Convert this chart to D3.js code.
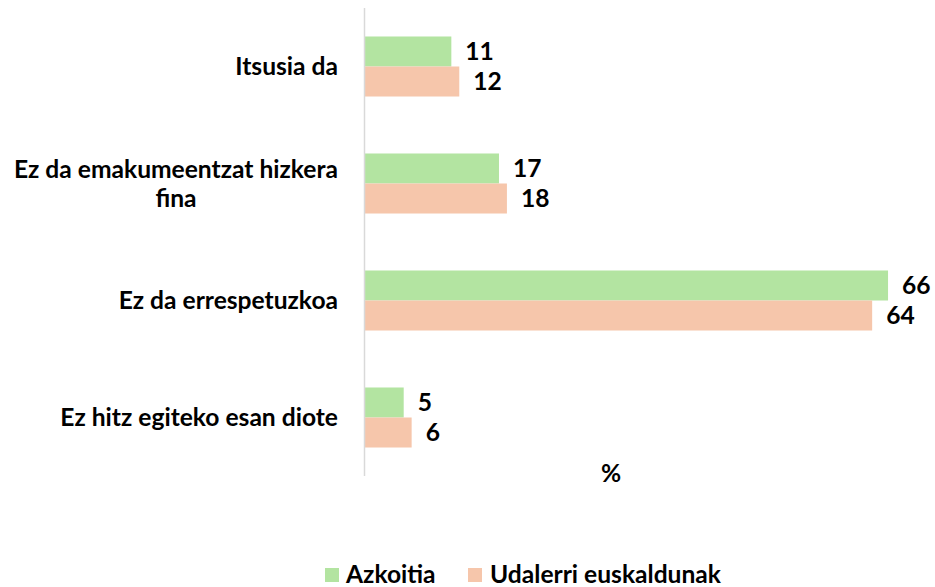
<!DOCTYPE html>
<html>
<head>
<meta charset="utf-8">
<script src="https://cdn.jsdelivr.net/npm/d3@7"></script>
<style>
  body { margin: 0; background: #fff; }
  text { font-family: Lato, "Open Sans", sans-serif; font-weight: bold; fill: #000; }
</style>
</head>
<body>
<div id="chart"></div>
<script>
// Data
const categories = [
  "Itsusia da",
  "Ez da emakumeentzat hizkera fina",
  "Ez da errespetuzkoa",
  "Ez hitz egiteko esan diote"
];
// Label lines (Excel wraps the long one)
const categoryLines = [
  ["Itsusia da"],
  ["Ez da emakumeentzat hizkera", "fina"],
  ["Ez da errespetuzkoa"],
  ["Ez hitz egiteko esan diote"]
];
const seriesNames = ["Azkoitia", "Udalerri euskaldunak"];
const azkoitia = [11, 17, 66, 5];
const udalerriEuskaldunak = [12, 18, 64, 6];
const seriesColors = ["#b3e4a1", "#f6c6ab"];
const axisTitle = "%";

const drawChart = () => {
  const width = 935;
  const height = 587;
  const fontSize = 24.6;
  const margin = { left: 364, top: 8, bottom: 111 };

  const svg = d3.select("#chart")
    .append("svg")
    .attr("width", width)
    .attr("height", height);

  const xScale = d3.scaleLinear()
    .domain([0, 70])
    .range([margin.left, margin.left + 70 * 7.94]);

  const yScale = d3.scaleBand()
    .domain(categories)
    .range([margin.top, height - margin.bottom])
    .paddingInner(0.487)
    .paddingOuter(0.2435);

  const subScale = d3.scaleBand()
    .domain(seriesNames)
    .range([0, yScale.bandwidth()]);

  const rows = categories.map((c, i) => ({
    category: c,
    values: [azkoitia[i], udalerriEuskaldunak[i]]
  }));

  // bars
  const groups = svg.append("g")
    .selectAll("g")
    .data(rows)
    .join("g")
    .attr("transform", d => "translate(0," + yScale(d.category) + ")");

  groups.selectAll("rect")
    .data(d => d.values.map((v, j) => ({ name: seriesNames[j], value: v, color: seriesColors[j] })))
    .join("rect")
    .attr("x", xScale(0))
    .attr("y", d => subScale(d.name))
    .attr("width", d => xScale(d.value) - xScale(0))
    .attr("height", subScale.bandwidth())
    .attr("fill", d => d.color);

  // value labels
  groups.selectAll("text.value")
    .data(d => d.values.map((v, j) => ({ name: seriesNames[j], value: v })))
    .join("text")
    .attr("class", "value")
    .attr("x", d => xScale(d.value) + 14)
    .attr("y", d => subScale(d.name) + subScale.bandwidth() / 2)
    .attr("dy", "0.36em")
    .attr("font-size", fontSize)
    .text(d => d.value);

  // vertical axis line (no ticks)
  svg.append("line")
    .attr("x1", xScale(0) + 0.5)
    .attr("x2", xScale(0) + 0.5)
    .attr("y1", margin.top)
    .attr("y2", height - margin.bottom)
    .attr("stroke", "#d9d9d9")
    .attr("stroke-width", 1.5);

  // category labels, wrapped lines centered on the longest one
  const lineHeight = 29;
  categories.forEach((c, i) => {
    const lines = categoryLines[i];
    const g = svg.append("g");
    const texts = g.selectAll("text")
      .data(lines)
      .join("text")
      .attr("font-size", fontSize)
      .attr("y", (d, k) => yScale(c) + yScale.bandwidth() / 2 + (k - (lines.length - 1) / 2) * lineHeight)
      .attr("dy", "0.36em")
      .text(d => d);
    const maxW = d3.max(texts.nodes(), n => n.getComputedTextLength());
    texts.attr("text-anchor", "middle").attr("x", 338 - maxW / 2);
  });

  // axis title
  svg.append("text")
    .attr("x", 611)
    .attr("y", 473)
    .attr("dy", "0.36em")
    .attr("text-anchor", "middle")
    .attr("font-size", fontSize)
    .text(axisTitle);

  // legend
  const legendX = [325, 468];
  const legend = svg.append("g")
    .selectAll("g")
    .data(seriesNames)
    .join("g")
    .attr("transform", (d, i) => "translate(" + legendX[i] + ",574)");
  legend.append("rect")
    .attr("x", 0)
    .attr("y", -6)
    .attr("width", 14)
    .attr("height", 14)
    .attr("fill", (d, i) => seriesColors[i]);
  legend.append("text")
    .attr("x", (d, i) => i === 0 ? 21 : 22)
    .attr("dy", "0.36em")
    .attr("font-size", fontSize)
    .text(d => d);
}

drawChart();
</script>
</body>
</html>
